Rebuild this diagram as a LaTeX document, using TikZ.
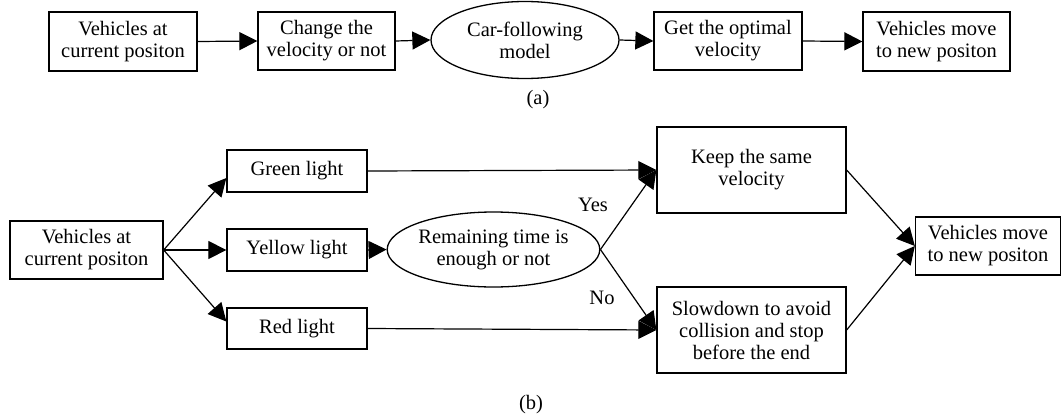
\documentclass[tikz,border=0pt]{standalone}
\usepackage{fontspec}
\setmainfont{Liberation Serif}
\usetikzlibrary{arrows.meta,shapes.geometric}
\begin{document}
\begin{tikzpicture}[x=1pt,y=-1pt,
  every node/.style={font=\fontsize{20.5}{22}\selectfont, align=center, inner sep=0pt},
  boxn/.style={draw, line width=1.3pt, minimum width=#1},
  elln/.style={draw, ellipse, line width=1.3pt},
  conn/.style={line width=1.2pt, -{Triangle[length=18pt,width=18pt]}},
  lbl/.style={}]
\useasboundingbox (0,0) rectangle (1062,415);
% (a)
\node[boxn=148pt, minimum height=59pt] (a1) at (123,41.5) {Vehicles at\\current positon};
\node[boxn=137pt, minimum height=58pt] (a2) at (326.5,41) {Change the\\velocity or not};
\node[elln, minimum width=188pt, minimum height=77pt] (a3) at (525,40) {Car-following\\model};
\node[boxn=148pt, minimum height=58pt] (a4) at (728,41) {Get the optimal\\velocity};
\node[boxn=147pt, minimum height=59pt] (a5) at (936.5,41.5) {Vehicles move\\to new positon};
\node[lbl] (la) at (538,100) {(a)};
\draw[conn] (a1.east) -- (a2.west);
\draw[conn] (a2.east) -- (a3.west);
\draw[conn] (a3.east) -- (a4.west);
\draw[conn] (a4.east) -- (a5.west);
% (b)
\node[boxn=153pt, minimum height=58pt] (b1) at (86.5,250) {Vehicles at\\current positon};
\node[boxn=140pt, minimum height=42pt] (gr) at (297,171) {Green light};
\node[boxn=140pt, minimum height=42pt] (ye) at (297,250) {Yellow light};
\node[boxn=140pt, minimum height=41pt] (re) at (297,328.5) {Red light};
\node[elln, minimum width=179pt, minimum height=75pt] (rem) at (493.5,249.5) {Remaining time is\\enough or not};
\node[boxn=189pt, minimum height=86pt] (keep) at (751.5,170) {Keep the same\\velocity};
\node[boxn=189pt, minimum height=86pt] (slow) at (751.5,330) {Slowdown to avoid\\collision and stop\\before the end};
\node[boxn=145pt, minimum height=58pt] (b6) at (988,246) {Vehicles move\\to new positon};
\node[lbl] (lb) at (531,405) {(b)};
\node[lbl] (yes) at (593,205) {Yes};
\node[lbl] (no) at (602,298) {No};
\draw[conn] (b1.east) -- ([yshift=-7pt]gr.west);
\draw[conn] (b1.east) -- (ye.west);
\draw[conn] (b1.east) -- ([yshift=7pt]re.west);
\draw[conn] (gr.east) -- (keep.west);
\draw[conn] (ye.east) -- (rem.west);
\draw[conn] (re.east) -- (slow.west);
\draw[conn] (rem.east) -- (keep.west);
\draw[conn] (rem.east) -- (slow.west);
\draw[conn] (keep.east) -- (b6.west);
\draw[conn] (slow.east) -- (b6.west);
\end{tikzpicture}
\end{document}
